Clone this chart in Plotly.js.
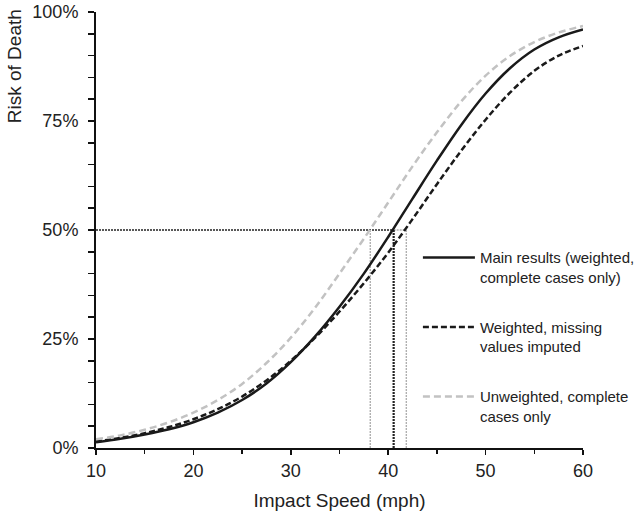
<!DOCTYPE html>
<html>
<head>
<meta charset="utf-8">
<script src="https://cdn.plot.ly/plotly-3.0.1.min.js"></script>
<style>html,body{margin:0;padding:0;background:#fff;}#chart{width:643px;height:515px;}</style>
</head>
<body>
<div id="chart"></div>
<script>
// Impact speed (mph)
const speeds = [10, 12.5, 15, 17.5, 20, 22.5, 25, 27.5, 30, 32.5, 35, 37.5, 40, 42.5, 45, 47.5, 50, 52.5, 55, 57.5, 60];
// Risk of death (fraction)
const mainResults = [0.013, 0.021, 0.031, 0.043, 0.059, 0.081, 0.110, 0.148, 0.197, 0.256, 0.324, 0.400, 0.484, 0.572, 0.659, 0.741, 0.813, 0.871, 0.914, 0.942, 0.960];
const weightedImputed = [0.015, 0.023, 0.034, 0.048, 0.066, 0.089, 0.118, 0.155, 0.200, 0.253, 0.313, 0.378, 0.448, 0.525, 0.605, 0.682, 0.753, 0.815, 0.865, 0.900, 0.922];
const unweighted = [0.020, 0.029, 0.042, 0.059, 0.081, 0.110, 0.147, 0.195, 0.253, 0.322, 0.400, 0.480, 0.563, 0.646, 0.724, 0.795, 0.854, 0.899, 0.931, 0.953, 0.968];
// Speed at 50% risk for each model
const speedAt50 = {main: 40.56, imputed: 41.86, unweighted: 38.16};

const seriesNames = [
  'Main results (weighted,<br>complete cases only)',
  'Weighted, missing<br>values imputed',
  'Unweighted, complete<br>cases only'
];
const yTickVals = [0, 0.25, 0.5, 0.75, 1];
const yTickText = ['0%', '25%', '50%', '75%', '100%'];
const xTickVals = [10, 20, 30, 40, 50, 60];

const traces = [
  {x: speeds, y: mainResults, name: seriesNames[0], legendgroup: 'a', mode: 'lines',
   line: {color: '#1a1a1a', width: 2.5, shape: 'spline', smoothing: 1}},
  {x: speeds, y: weightedImputed, name: seriesNames[1], legendgroup: 'b', mode: 'lines',
   line: {color: '#1a1a1a', width: 2.5, dash: '6px,3px', shape: 'spline', smoothing: 1}},
  {x: speeds, y: unweighted, name: seriesNames[2], legendgroup: 'c', mode: 'lines',
   line: {color: '#c2c2c2', width: 2.5, dash: '7px,4px', shape: 'spline', smoothing: 1}}
];

const dotBlack = {color: '#222', width: 1.6, dash: '2px,1px'};
const dotGray = {color: '#b0b0b0', width: 1.4, dash: '2px,1px'};
const shapes = [
  {type: 'line', xref: 'x', yref: 'y', x0: 10, x1: speedAt50.main, y0: 0.5, y1: 0.5, line: dotBlack, layer: 'below'},
  {type: 'line', xref: 'x', yref: 'y', x0: speedAt50.main, x1: speedAt50.imputed, y0: 0.5, y1: 0.5, line: dotGray, layer: 'below'},
  {type: 'line', xref: 'x', yref: 'y', x0: speedAt50.unweighted, x1: speedAt50.unweighted, y0: 0, y1: 0.5, line: dotGray, layer: 'below'},
  {type: 'line', xref: 'x', yref: 'y', x0: speedAt50.imputed, x1: speedAt50.imputed, y0: 0, y1: 0.5, line: dotGray, layer: 'below'},
  {type: 'line', xref: 'x', yref: 'y', x0: speedAt50.main, x1: speedAt50.main, y0: 0, y1: 0.5, line: {color: '#222', width: 2.2, dash: '2px,1px'}, layer: 'below'}
];

const font = 'Arial, "Liberation Sans", sans-serif';
const layout = {
  width: 643, height: 515,
  margin: {l: 96, r: 60, t: 12, b: 67, autoexpand: false},
  paper_bgcolor: '#fff', plot_bgcolor: '#fff',
  font: {family: font, color: '#222'},
  showlegend: true,
  legend: {
    x: 0.661, y: 0.474, xanchor: 'left', yanchor: 'top',
    traceorder: 'grouped', tracegroupgap: 27.5, valign: 'top',
    itemwidth: 52,
    font: {family: font, size: 15, color: '#222'},
    bgcolor: 'rgba(0,0,0,0)'
  },
  xaxis: {
    range: [10, 60], showgrid: false, zeroline: false, automargin: false,
    showline: true, linecolor: '#111', linewidth: 2,
    ticks: 'outside', ticklen: 5, tickwidth: 1.5, tickcolor: '#111',
    tickvals: xTickVals,
    minor: {dtick: 5, tick0: 10, ticks: 'outside', ticklen: 4, tickwidth: 1.5, tickcolor: '#111', showgrid: false},
    tickfont: {family: font, size: 18, color: '#222'},
    title: {text: 'Impact Speed (mph)', font: {family: font, size: 19, color: '#222'}, standoff: 14}
  },
  yaxis: {
    range: [0, 1], showgrid: false, zeroline: false, automargin: false,
    showline: true, linecolor: '#111', linewidth: 2,
    ticks: 'outside', ticklen: 6, tickwidth: 1.5, tickcolor: '#111',
    tickvals: yTickVals, ticktext: yTickText,
    minor: {dtick: 0.05, tick0: 0, ticks: 'outside', ticklen: 6, tickwidth: 1.5, tickcolor: '#111', showgrid: false},
    tickfont: {family: font, size: 18, color: '#222'},
    ticklabelstandoff: 6
  },
  annotations: [{
    text: 'Risk of Death', textangle: -90, xref: 'paper', yref: 'paper',
    x: -0.168, y: 0.876, xanchor: 'center', yanchor: 'middle', showarrow: false,
    font: {family: font, size: 19, color: '#222'}
  }],
  shapes: shapes
};

Plotly.newPlot('chart', traces, layout, {staticPlot: true, displayModeBar: false});
</script>
</body>
</html>
